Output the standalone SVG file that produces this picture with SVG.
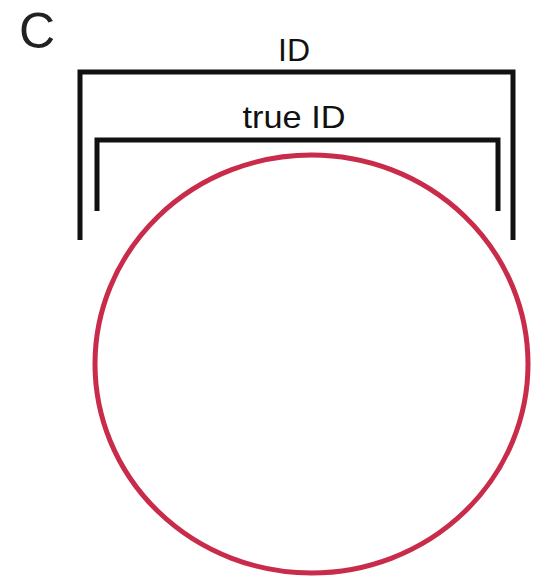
<svg xmlns="http://www.w3.org/2000/svg" width="542" height="580" viewBox="0 0 542 580">
<style>
.br{fill:none;stroke:#111;stroke-width:5;stroke-linecap:butt;stroke-linejoin:miter}
.t{font-family:"Liberation Sans",Arial,sans-serif;fill:#111;text-anchor:middle}
</style>
<rect width="542" height="580" fill="#fff"/>
<text x="37" y="48" font-family="'Liberation Sans',Arial,sans-serif" font-size="50" fill="#222" text-anchor="middle">C</text>
<g id="outer">
<path class="br" d="M80,240 V72 H513 V240"/>
<text class="t" x="294" y="61" font-size="32" textLength="32" lengthAdjust="spacingAndGlyphs">ID</text>
</g>
<g id="inner">
<path class="br" d="M97,211 V140 H498 V211"/>
<text class="t" x="294" y="128" font-size="32" textLength="103" lengthAdjust="spacingAndGlyphs">true ID</text>
</g>
<g id="circle">
<ellipse cx="311.5" cy="364" rx="216.5" ry="209" fill="none" stroke="#c92c4a" stroke-width="5"/>
</g>
</svg>
